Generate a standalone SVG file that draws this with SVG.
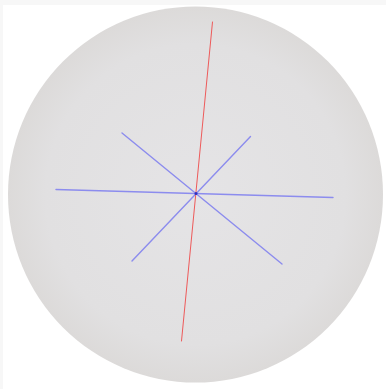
<svg xmlns="http://www.w3.org/2000/svg" width="386" height="389" viewBox="0 0 386 389">
<defs>
<radialGradient id="sph" cx="0.5" cy="0.5" r="0.5">
<stop offset="0" stop-color="#e5e4e6"/>
<stop offset="0.8" stop-color="#e1e0e1"/>
<stop offset="1" stop-color="#dcdad9"/>
</radialGradient>
<style>
.ax{stroke:#8c8cee;stroke-width:1.4;stroke-linecap:round;fill:none}
.rd{stroke:#ee5a5a;stroke-width:1;stroke-linecap:round;fill:none}
</style>
</defs>
<rect x="0" y="0" width="386" height="389" fill="#ffffff"/>
<rect x="0" y="0" width="386" height="5" fill="#f7f7f7"/>
<rect x="0" y="0" width="3" height="389" fill="#f7f7f7"/>
<g id="sphere">
<ellipse cx="195.5" cy="194.5" rx="187.5" ry="188" fill="url(#sph)"/>
</g>
<g id="connectors">
<line class="ax" x1="56" y1="189.5" x2="333" y2="197.5"/>
<line class="ax" x1="122" y1="133" x2="282" y2="264"/>
<line class="ax" x1="250.5" y1="136.5" x2="132" y2="261"/>
<line class="rd" x1="212.5" y1="22" x2="181.5" y2="341"/>
<circle cx="196" cy="193.5" r="1.5" fill="#3030c0"/>
</g>
</svg>
